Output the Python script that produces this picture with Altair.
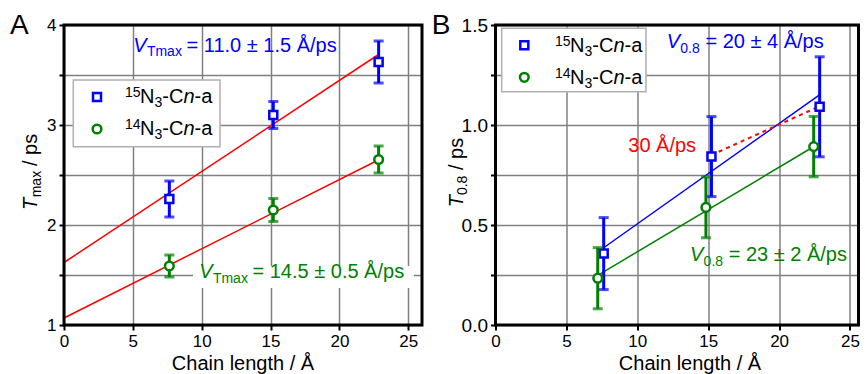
import altair as alt
import pandas as pd

FONT = "Liberation Sans"
BLUE = "#0000FF"
GREEN = "#008000"
RED = "#FF0000"
GRID = "#808080"

# ---------------- Panel A data ----------------
a_len = [7.65, 15.2, 22.85]
a_t15 = [2.26, 3.10, 3.63]
a_e15 = [0.18, 0.135, 0.21]
a_t14 = [1.59, 2.15, 2.655]
a_e14 = [0.11, 0.115, 0.135]
a_fit_x = [0.0, 22.9]
a_fit15_y = [1.625, 3.71]
a_fit14_y = [1.07, 2.655]

# ---------------- Panel B data ----------------
b_len15 = [7.63, 15.23, 22.86]
b_t15 = [0.357, 0.842, 1.091]
b_e15 = [0.18, 0.20, 0.25]
b_len14 = [7.21, 14.84, 22.44]
b_t14 = [0.234, 0.588, 0.892]
b_e14 = [0.153, 0.152, 0.151]
b_fit15_x = [7.6, 22.9]
b_fit15_y = [0.385, 1.153]
b_fit14_x = [7.3, 22.4]
b_fit14_y = [0.252, 0.89]
b_fast_x = [15.23, 22.9]
b_fast_y = [0.85, 1.095]

ONE = pd.DataFrame({"k": [0]})
SQ_SIZE = 64
CI_SIZE = 75


def pts_df(xs, ys, es):
    return pd.DataFrame({
        "x": xs, "y": ys,
        "lo": [y - e for y, e in zip(ys, es)],
        "hi": [y + e for y, e in zip(ys, es)],
    })


def line_df(xs, ys):
    return pd.DataFrame({"x": xs, "y": ys})


def txt(s, x, y, size=20, color="black", italic=False, angle=0, align="left"):
    kw = dict(text=s, font=FONT, fontSize=size, color=color, align=align,
              baseline="alphabetic")
    if italic:
        kw["fontStyle"] = "italic"
    if angle:
        kw["angle"] = angle
    return alt.Chart(ONE).mark_text(**kw).encode(x=alt.value(x), y=alt.value(y))


def box(x1, y1, x2, y2, fill="white", stroke="#b0b0b0", sw=1.5):
    return alt.Chart(ONE).mark_rect(fill=fill, stroke=stroke,
                                    strokeWidth=sw).encode(
        x=alt.value(x1), x2=alt.value(x2), y=alt.value(y1), y2=alt.value(y2))


def nobox(x1, y1, x2, y2):
    return alt.Chart(ONE).mark_rect(fill="white", strokeWidth=0).encode(
        x=alt.value(x1), x2=alt.value(x2), y=alt.value(y1), y2=alt.value(y2))


def sym(shape, color, x, y):
    size = SQ_SIZE if shape == "square" else CI_SIZE
    return alt.Chart(ONE).mark_point(shape=shape, filled=True, fill="white",
                                     stroke=color, strokeWidth=2.5, size=size,
                                     opacity=1).encode(x=alt.value(x), y=alt.value(y))


def legend_row(nx, base, iso):
    return [
        txt(iso, nx - 15, base - 6, size=14),
        txt("N", nx, base, size=20),
        txt("3", nx + 14.4, base + 4, size=14),
        txt("-C", nx + 22.3, base, size=20),
        txt("n", nx + 43.4, base, size=20, italic=True),
        txt("-a", nx + 54.5, base, size=20),
    ]


def vlabel(x, base, sub, rest, color, subw):
    # rest starts after one space width (20px * 0.278)
    return [
        txt("V", x, base, size=20, color=color, italic=True),
        txt(sub, x + 13.6, base + 4.5, size=14, color=color),
        txt(rest, x + 13.6 + subw + 5.6, base, size=20, color=color),
    ]


def series(df, color, shape, xsc, xax, ysc, yax):
    base = alt.Chart(df)
    X = alt.X("x:Q", scale=xsc, axis=xax, title=None)
    bar = base.mark_rule(color=color, strokeWidth=3).encode(
        x=X, y=alt.Y("lo:Q", scale=ysc, axis=yax, title=None), y2="hi:Q")
    cap1 = base.mark_tick(color=color, orient="horizontal", size=10, thickness=3).encode(
        x=X, y=alt.Y("lo:Q", scale=ysc, axis=yax, title=None))
    cap2 = base.mark_tick(color=color, orient="horizontal", size=10, thickness=3).encode(
        x=X, y=alt.Y("hi:Q", scale=ysc, axis=yax, title=None))
    size = SQ_SIZE if shape == "square" else CI_SIZE
    pt = base.mark_point(shape=shape, filled=True, fill="white", stroke=color,
                         strokeWidth=2.5, size=size, opacity=1).encode(
        x=X, y=alt.Y("y:Q", scale=ysc, axis=yax, title=None))
    return [bar, cap1, cap2, pt]


def fitline(df, color, xsc, xax, ysc, yax, dash=None, sw=1.5):
    kw = dict(color=color, strokeWidth=sw)
    if dash:
        kw["strokeDash"] = dash
    return alt.Chart(df).mark_line(**kw).encode(
        x=alt.X("x:Q", scale=xsc, axis=xax, title=None),
        y=alt.Y("y:Q", scale=ysc, axis=yax, title=None))


def frame(w, h):
    return alt.Chart(ONE).mark_rect(fillOpacity=0, fill="white", stroke="black",
                                    strokeWidth=3).encode(
        x=alt.value(0), x2=alt.value(w), y=alt.value(0), y2=alt.value(h))


def x_axis():
    return alt.Axis(values=[0, 5, 10, 15, 20, 25], grid=True, gridColor=GRID,
                    gridWidth=1.5, domain=False, ticks=True, tickColor="black",
                    tickWidth=2, tickSize=5, labelFont=FONT, labelFontSize=17,
                    labelColor="black", labelPadding=3, labelFlush=False,
                    labelOverlap=False)


def y_axis(values, expr, fs):
    return alt.Axis(values=values, grid=True, gridColor=GRID, gridWidth=1.5,
                    domain=False, ticks=True, tickColor="black", tickWidth=2,
                    tickSize=5, labelFont=FONT, labelFontSize=fs, labelColor="black",
                    labelPadding=3, labelFlush=False, labelOverlap=False,
                    labelExpr=expr)


H = 300
XT_BASE = 344.5

# ---------------- Panel A ----------------
WA = 358
xsA = alt.Scale(domain=[0, 26], nice=False, zero=False)
xaA = x_axis()
ysA = alt.Scale(domain=[1, 4], nice=False, zero=False)
yaA = y_axis([1, 1.5, 2, 2.5, 3, 3.5, 4],
             "datum.value % 1 == 0 ? format(datum.value, 'd') : ''", 17)

layersA = [fitline(line_df(a_fit_x, a_fit15_y), RED, xsA, xaA, ysA, yaA),
           fitline(line_df(a_fit_x, a_fit14_y), RED, xsA, xaA, ysA, yaA),
           nobox(129, 241, 350, 263)]
layersA += series(pts_df(a_len, a_t15, a_e15), BLUE, "square", xsA, xaA, ysA, yaA)
layersA += series(pts_df(a_len, a_t14, a_e14), GREEN, "circle", xsA, xaA, ysA, yaA)
layersA += [box(9.3, 55, 156, 121.7), sym("square", BLUE, 33, 72),
            sym("circle", GREEN, 33, 104)]
layersA += legend_row(76, 78.3, "15") + legend_row(76, 110, "14")
layersA += vlabel(69.3, 26.7, "Tmax", "= 11.0 ± 1.5 Å/ps", BLUE, 34)
layersA += vlabel(135.3, 253, "Tmax", "= 14.5 ± 0.5 Å/ps", GREEN, 34)
layersA += [txt("A", -54, 9.3, size=28),
            txt("Chain length / Å", 179, XT_BASE, size=20, align="center"),
            txt("T", -27.3, 185, size=20, italic=True, angle=270),
            txt("max", -23.3, 172.3, size=14, angle=270),
            txt("/ ps", -27.3, 141, size=20, angle=270),
            frame(WA, H)]
panelA = alt.layer(*layersA).properties(width=WA, height=H)

# ---------------- Panel B ----------------
WB = 363
xsB = alt.Scale(domain=[0, 25.6], nice=False, zero=False)
xaB = x_axis()
ysB = alt.Scale(domain=[0, 1.5], nice=False, zero=False)
yaB = y_axis([0, 0.25, 0.5, 0.75, 1.0, 1.25, 1.5],
             "datum.value % 0.5 == 0 ? format(datum.value, '.1f') : ''", 19)

layersB = [fitline(line_df(b_fit15_x, b_fit15_y), BLUE, xsB, xaB, ysB, yaB),
           fitline(line_df(b_fit14_x, b_fit14_y), GREEN, xsB, xaB, ysB, yaB),
           fitline(line_df(b_fast_x, b_fast_y), RED, xsB, xaB, ysB, yaB,
                   dash=[4, 4], sw=2)]
layersB += series(pts_df(b_len15, b_t15, b_e15), BLUE, "square", xsB, xaB, ysB, yaB)
layersB += series(pts_df(b_len14, b_t14, b_e14), GREEN, "circle", xsB, xaB, ysB, yaB)
layersB += [box(6.2, 3.3, 150.5, 66.7), sym("square", BLUE, 28.8, 20.3),
            sym("circle", GREEN, 28.8, 52.3)]
layersB += legend_row(74.5, 26.7, "15") + legend_row(74.5, 58.7, "14")
layersB += vlabel(171.2, 23.3, "0.8", "= 20 ± 4 Å/ps", BLUE, 19.5)
layersB += vlabel(194.5, 236, "0.8", "= 23 ± 2 Å/ps", GREEN, 19.5)
layersB += [txt("30 Å/ps", 132.8, 126.7, size=20, color=RED),
            txt("B", -63.8, 9.3, size=28),
            txt("Chain length / Å", 194.5, XT_BASE, size=20, align="center"),
            txt("T", -32.5, 182.3, size=20, italic=True, angle=270),
            txt("0.8", -28.5, 170.1, size=14, angle=270),
            txt("/ ps", -32.5, 145, size=20, angle=270),
            frame(WB, H)]
panelB = alt.layer(*layersB).properties(width=WB, height=H)

chart = alt.hconcat(panelA, panelB, spacing=73.5, bounds="flush").properties(
    padding={"left": 2, "top": 4, "right": 0, "bottom": 0}
).configure_view(stroke=None)

chart.save("out.html", embed_options={"renderer": "svg", "actions": False})
